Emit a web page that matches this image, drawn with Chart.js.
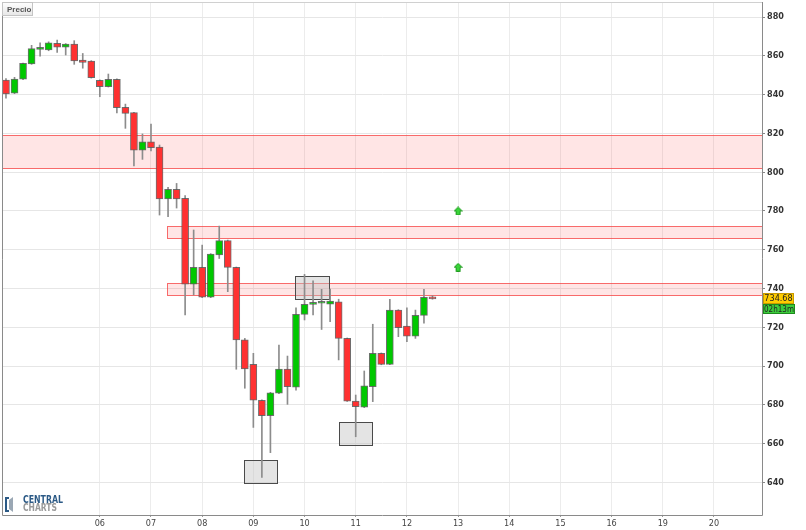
<!DOCTYPE html>
<html>
<head>
<meta charset="utf-8">
<script src="https://cdn.jsdelivr.net/npm/chart.js@4.4.1/dist/chart.umd.min.js"></script>
<style>
  html, body { margin: 0; padding: 0; background: #fff; }
  #wrap { width: 806px; height: 530px; }
</style>
</head>
<body>
<div id="wrap"><canvas id="chart" width="806" height="530"></canvas></div>
<script>
// ----------------------
// 4h candles, one slot per candle (6 per trading day)
// ----------------------
const opens  = [847.5, 840.7, 847.9, 855.8, 863.3, 863.0, 866.4, 864.4, 866.1, 857.8, 857.3, 847.4, 844.1, 847.9, 833.4, 830.7, 811.4,
                815.6, 813.0, 786.2, 791.2, 786.5, 742.3, 750.9, 735.5, 757.3, 764.7, 750.9, 713.5, 700.9, 682.4, 674.4, 686.0,
                698.5, 689.1, 726.7, 731.8, 732.4, 732.0, 733.2, 714.3, 682.0, 678.8, 689.4, 706.6, 700.9, 728.9, 720.7, 715.5,
                726.2, 735.5];
const closes = [840.3, 848.0, 856.1, 863.7, 864.4, 866.7, 864.4, 866.1, 857.3, 856.6, 848.7, 844.1, 847.9, 833.3, 830.3, 811.4, 815.6,
                812.6, 786.2, 791.2, 786.2, 742.3, 750.9, 735.5, 757.8, 764.7, 750.9, 713.5, 698.5, 682.4, 674.4, 686.3, 698.5,
                689.4, 726.7, 731.8, 732.7, 733.1, 733.6, 714.3, 682.0, 679.1, 689.8, 706.6, 700.9, 728.9, 719.8, 715.5, 726.2,
                735.5, 734.68];
const highs  = [848.2, 848.9, 856.3, 865.4, 866.7, 867.2, 868.1, 866.3, 867.8, 861.2, 857.5, 847.6, 850.6, 848.1, 835.1, 830.9, 819.7,
                824.8, 814.0, 792.2, 794.2, 787.9, 770.2, 762.4, 758.0, 772.2, 765.0, 751.1, 714.3, 706.6, 682.6, 686.5, 710.9,
                705.2, 730.1, 747.3, 744.0, 739.6, 739.7, 734.5, 714.5, 685.1, 697.5, 721.6, 706.8, 734.4, 729.1, 730.1, 728.9,
                739.6, 736.3];
const lows   = [838.2, 840.5, 847.7, 855.6, 859.8, 862.6, 861.8, 860.4, 855.6, 853.6, 848.5, 838.9, 843.9, 830.5, 822.6, 803.2, 806.6,
                811.0, 777.9, 777.0, 781.5, 726.4, 736.7, 735.3, 735.3, 755.5, 738.4, 698.4, 688.6, 668.4, 642.6, 655.4, 685.8,
                680.3, 687.6, 723.8, 726.4, 718.9, 722.9, 703.2, 681.8, 663.6, 678.6, 681.7, 700.7, 700.7, 715.2, 712.6, 714.3,
                722.1, 734.5];

// day labels on the time axis (slot where each day starts)
const dayTicks  = [11, 17, 23, 29, 35, 41, 47, 53, 59, 65, 71, 77, 83];
const dayLabels = ['06', '07', '08', '09', '10', '11', '12', '13', '14', '15', '16', '19', '20'];
const yTicks = [640, 660, 680, 700, 720, 740, 760, 780, 800, 820, 840, 860, 880];

// resistance zones (null start = from the left edge)
const zoneStart = [null, 18.9, 18.9];
const zoneLow   = [802.3, 765.9, 736.7];
const zoneHigh  = [819.3, 772.4, 743.1];

// pattern boxes
const boxStart = [27.9, 33.9, 39.0];
const boxEnd   = [31.8, 37.9, 42.9];
const boxLow   = [639.7, 734.4, 659.3];
const boxHigh  = [651.6, 746.4, 671.0];

// buy signals
const arrowSlot  = [53, 53];
const arrowValue = [780, 751];

const lastPrice = closes[closes.length - 1];
const timeLeft = '02h13m';

const RED = '#ff3131';
const GREEN = '#00c800';
const NARROW = "'Liberation Sans Narrow', 'DejaVu Sans Condensed', Arial, sans-serif";

// ----------------------
// arrow marker
// ----------------------
const arrowImg = document.createElement('canvas');
arrowImg.width = 9;
arrowImg.height = 9;
(function () {
    const a = arrowImg.getContext('2d');
    a.beginPath();
    a.moveTo(4.5, 0.5);
    a.lineTo(8.5, 4.5);
    a.lineTo(6.5, 4.5);
    a.lineTo(6.5, 8.5);
    a.lineTo(2.5, 8.5);
    a.lineTo(2.5, 4.5);
    a.lineTo(0.5, 4.5);
    a.closePath();
    a.fillStyle = '#3ad43a';
    a.fill();
    a.strokeStyle = '#1f9a1f';
    a.lineWidth = 1;
    a.stroke();
})();

// ----------------------
// zones, boxes, frame and labels
// ----------------------
const overlays = {
    id: 'overlays',
    beforeDatasetsDraw(chart) {
        const { ctx, chartArea: a, scales: { x, y } } = chart;
        ctx.save();
        ctx.beginPath();
        ctx.rect(a.left, a.top, a.right - a.left, a.bottom - a.top);
        ctx.clip();
        ctx.lineWidth = 1;
        zoneLow.forEach((lo, i) => {
            const left = zoneStart[i] === null ? a.left - 1 : Math.round(x.getPixelForValue(zoneStart[i])) + 0.5;
            const top = Math.round(y.getPixelForValue(zoneHigh[i])) + 0.5;
            const bot = Math.round(y.getPixelForValue(lo)) + 0.5;
            ctx.fillStyle = 'rgba(255, 40, 40, 0.12)';
            ctx.fillRect(left, top, a.right - left, bot - top);
            ctx.strokeStyle = 'rgba(245, 60, 60, 0.75)';
            ctx.strokeRect(left, top, a.right - left + 5, bot - top);
        });
        boxStart.forEach((s, i) => {
            const l = Math.round(x.getPixelForValue(s)) + 0.5;
            const r = Math.round(x.getPixelForValue(boxEnd[i])) + 0.5;
            const t = Math.round(y.getPixelForValue(boxHigh[i])) + 0.5;
            const b = Math.round(y.getPixelForValue(boxLow[i])) + 0.5;
            ctx.fillStyle = 'rgba(190, 190, 190, 0.42)';
            ctx.fillRect(l, t, r - l, b - t);
            ctx.strokeStyle = '#4a4a4a';
            ctx.strokeRect(l, t, r - l, b - t);
        });
        ctx.restore();
    },
    afterDraw(chart) {
        const { ctx, chartArea: a, scales: { y } } = chart;
        ctx.save();
        ctx.lineWidth = 1;

        // frame
        ctx.strokeStyle = '#d0d0d0';
        ctx.beginPath();
        ctx.moveTo(a.left - 1, a.top - 0.5);
        ctx.lineTo(a.right, a.top - 0.5);
        ctx.stroke();
        ctx.strokeStyle = '#8a8a8a';
        ctx.beginPath();
        ctx.moveTo(a.left - 0.5, a.top);
        ctx.lineTo(a.left - 0.5, a.bottom + 0.5);
        ctx.lineTo(a.right + 0.5, a.bottom + 0.5);
        ctx.lineTo(a.right + 0.5, a.top - 1);
        ctx.stroke();

        // "Precio" button
        const g = ctx.createLinearGradient(0, 2, 0, 16);
        g.addColorStop(0, '#ffffff');
        g.addColorStop(1, '#e6e6e6');
        ctx.fillStyle = g;
        ctx.fillRect(2.5, 2.5, 30, 13);
        ctx.strokeStyle = '#c4c4c4';
        ctx.strokeRect(2.5, 2.5, 30, 13);
        ctx.fillStyle = '#555';
        ctx.font = "bold 8px 'Liberation Sans', Arial, sans-serif";
        ctx.textBaseline = 'middle';
        ctx.textAlign = 'left';
        ctx.fillText('Precio', 7, 9.5);

        // logo
        ctx.fillStyle = '#2c5a86';
        ctx.fillRect(5, 497, 2, 15);
        ctx.fillRect(5, 497, 4, 2);
        ctx.fillRect(5, 510, 4, 2);
        ctx.fillStyle = '#9aa7b4';
        ctx.beginPath();
        ctx.moveTo(9, 500);
        ctx.lineTo(13, 497);
        ctx.lineTo(13, 512);
        ctx.lineTo(9, 509);
        ctx.closePath();
        ctx.fill();
        ctx.font = "bold 10px " + NARROW;
        ctx.fillStyle = '#2c5a86';
        ctx.fillText('CENTRAL', 23, 500.5, 40);
        ctx.fillStyle = '#9a9a9a';
        ctx.fillText('CHARTS', 23, 508.5, 34);

        // last price and candle timer
        const py = Math.round(y.getPixelForValue(lastPrice));
        ctx.fillStyle = '#ffcc00';
        ctx.fillRect(763, py - 6, 31, 11);
        ctx.strokeStyle = '#c99a00';
        ctx.strokeRect(763.5, py - 5.5, 30, 10);
        ctx.fillStyle = '#3ccc3c';
        ctx.fillRect(763, py + 5, 32, 10);
        ctx.strokeStyle = '#1e8a1e';
        ctx.strokeRect(763.5, py + 5.5, 31, 9);
        ctx.fillStyle = '#222';
        ctx.font = "9px " + NARROW;
        ctx.textAlign = 'center';
        ctx.fillText(lastPrice.toFixed(2), 778.5, py, 29);
        ctx.fillText(timeLeft, 779, py + 10.5, 30);
        ctx.restore();
    }
};

// ----------------------
// chart
// ----------------------
const slots = opens.map((o, i) => i);
const bodyData = slots.map(i => ({ x: i, y: [opens[i], closes[i]] }));
const wickData = slots.map(i => ({ x: i, y: [lows[i], highs[i]] }));
const bodyColors = slots.map(i => closes[i] >= opens[i] ? GREEN : RED);

const ctx = document.getElementById('chart').getContext('2d');
const chart = new Chart(ctx, {
    type: 'bar',
    data: {
        datasets: [
            {
                label: 'cuerpo',
                data: bodyData,
                backgroundColor: bodyColors,
                borderColor: 'rgba(85, 85, 85, 0.85)',
                borderWidth: 1,
                borderSkipped: false,
                barThickness: 7,
                minBarLength: 2,
                grouped: false,
                order: 1
            },
            {
                label: 'mecha',
                data: wickData,
                backgroundColor: '#8c8c8c',
                borderWidth: 0,
                barThickness: 1,
                grouped: false,
                order: 2
            },
            {
                type: 'scatter',
                label: 'señal',
                data: arrowSlot.map((s, i) => ({ x: s, y: arrowValue[i] })),
                pointStyle: arrowImg,
                pointRadius: 5,
                order: 0
            }
        ]
    },
    options: {
        responsive: false,
        animation: false,
        events: [],
        layout: { autoPadding: false, padding: { left: 3, top: 3, right: 0, bottom: 0 } },
        plugins: {
            legend: { display: false },
            tooltip: { enabled: false }
        },
        scales: {
            x: {
                type: 'linear',
                min: -0.35,
                max: 88.63,
                offset: false,
                afterBuildTicks: s => { s.ticks = dayTicks.map(v => ({ value: v })); },
                afterFit: s => {
                    s.height = 15;
                    s.paddingLeft = 0; s.paddingRight = 0; s.paddingTop = 0; s.paddingBottom = 0;
                },
                grid: {
                    offset: false,
                    color: '#ececec',
                    tickColor: '#999',
                    tickLength: 2,
                    drawTicks: true
                },
                border: { display: false },
                ticks: {
                    autoSkip: false,
                    maxRotation: 0,
                    padding: 1,
                    color: '#444',
                    font: { size: 9, family: NARROW },
                    callback: v => dayLabels[dayTicks.indexOf(v)]
                }
            },
            y: {
                position: 'right',
                min: 623.25,
                max: 887.22,
                afterBuildTicks: s => { s.ticks = yTicks.map(v => ({ value: v })); },
                afterFit: s => {
                    s.width = 44;
                    s.paddingLeft = 0; s.paddingRight = 0; s.paddingTop = 0; s.paddingBottom = 0;
                },
                grid: {
                    color: '#e6e6e6',
                    tickColor: '#888',
                    tickLength: 3,
                    drawTicks: true
                },
                border: { display: false },
                ticks: {
                    padding: 2,
                    color: '#333',
                    font: { size: 9, weight: 'bold', family: NARROW },
                    callback: v => String(v)
                }
            }
        }
    },
    plugins: [overlays]
});
</script>
</body>
</html>
